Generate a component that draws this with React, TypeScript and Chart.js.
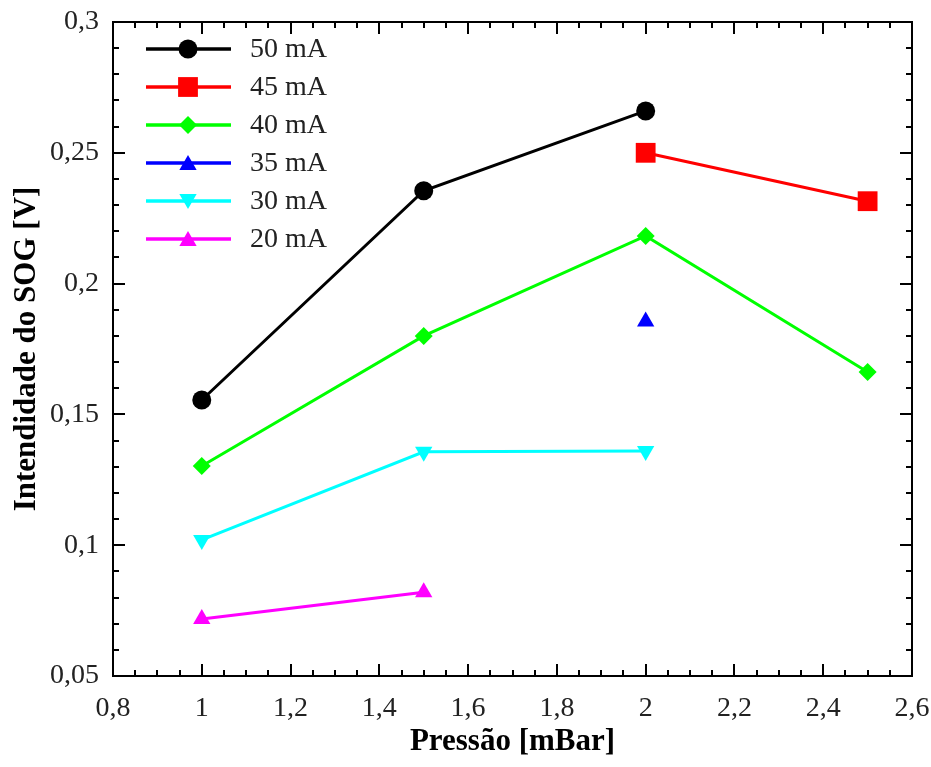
import React, { useEffect, useRef } from 'react';
import { Chart, registerables } from 'chart.js';

Chart.register(...registerables);

const FONT = "'Liberation Serif', 'Times New Roman', serif";

// Data (Pressão [mBar] vs Intendidade do SOG [V])
const seriesLabels = ['50 mA', '45 mA', '40 mA', '35 mA', '30 mA', '20 mA'];
const seriesColors = ['#000000', '#ff0000', '#00ff00', '#0000ff', '#00ffff', '#ff00ff'];
const seriesStyles = ['circle', 'rect', 'rectRot', 'triangle', 'triangle', 'triangle'];
const seriesRotation = [0, 0, 0, 0, 180, 0];
const seriesRadius = [9.5, 14, 9, 10, 10, 10];

const x50 = [1, 1.5, 2];
const y50 = [0.1555, 0.2355, 0.266];
const x45 = [2, 2.5];
const y45 = [0.25, 0.2315];
const x40 = [1, 1.5, 2, 2.5];
const y40 = [0.1303, 0.18, 0.2182, 0.1662];
const x35 = [2];
const y35 = [0.1855];
const x30 = [1, 1.5, 2];
const y30 = [0.102, 0.1357, 0.136];
const x20 = [1, 1.5];
const y20 = [0.0718, 0.082];

const seriesX = [x50, x45, x40, x35, x30, x20];
const seriesY = [y50, y45, y40, y35, y30, y20];

const xMin = 0.8, xMax = 2.6, xStep = 0.2, xMinor = 0.05;
const yMin = 0.05, yMax = 0.3, yStep = 0.05, yMinor = 0.01;

const xTitle = 'Pressão [mBar]';
const yTitle = 'Intendidade do SOG [V]';

const fmt = (v: number) => String(Number(v.toFixed(3))).replace('.', ',');

function drawMarker(ctx: CanvasRenderingContext2D, style: string, x: number, y: number, r: number, rot: number) {
  ctx.beginPath();
  if (style === 'circle') {
    ctx.arc(x, y, r, 0, Math.PI * 2);
  } else if (style === 'rect') {
    const s = Math.SQRT1_2 * r;
    ctx.rect(x - s, y - s, 2 * s, 2 * s);
  } else if (style === 'rectRot') {
    ctx.moveTo(x - r, y);
    ctx.lineTo(x, y - r);
    ctx.lineTo(x + r, y);
    ctx.lineTo(x, y + r);
    ctx.closePath();
  } else if (style === 'triangle') {
    let rad = (rot * Math.PI) / 180;
    ctx.moveTo(x + Math.sin(rad) * r, y - Math.cos(rad) * r);
    rad += (2 * Math.PI) / 3;
    ctx.lineTo(x + Math.sin(rad) * r, y - Math.cos(rad) * r);
    rad += (2 * Math.PI) / 3;
    ctx.lineTo(x + Math.sin(rad) * r, y - Math.cos(rad) * r);
    ctx.closePath();
  }
  ctx.fill();
}

const framePlugin = {
  id: 'framePlugin',
  afterDraw(chart: any) {
    const { ctx, chartArea: a, scales } = chart;
    const xs = scales.x;
    const ys = scales.y;
    ctx.save();
    ctx.strokeStyle = '#000';
    ctx.lineWidth = 2;
    ctx.strokeRect(a.left, a.top, a.right - a.left, a.bottom - a.top);

    const major = 12;
    const minor = 6;
    ctx.beginPath();
    const nx = Math.round((xMax - xMin) / xMinor);
    for (let i = 0; i <= nx; i++) {
      const v = xMin + i * xMinor;
      const isMajor = i % Math.round(xStep / xMinor) === 0;
      const len = isMajor ? major : minor;
      const px = Math.round(xs.getPixelForValue(v));
      ctx.moveTo(px, a.bottom);
      ctx.lineTo(px, a.bottom - len);
      ctx.moveTo(px, a.top);
      ctx.lineTo(px, a.top + len);
    }
    const ny = Math.round((yMax - yMin) / yMinor);
    for (let i = 0; i <= ny; i++) {
      const v = yMin + i * yMinor;
      const isMajor = i % Math.round(yStep / yMinor) === 0;
      const len = isMajor ? major : minor;
      const py = Math.round(ys.getPixelForValue(v));
      ctx.moveTo(a.left, py);
      ctx.lineTo(a.left + len, py);
      ctx.moveTo(a.right, py);
      ctx.lineTo(a.right - len, py);
    }
    ctx.stroke();

    // Axis titles
    ctx.fillStyle = '#000';
    ctx.font = `bold 31px ${FONT}`;
    ctx.textAlign = 'center';
    ctx.textBaseline = 'alphabetic';
    ctx.fillText(xTitle, (a.left + a.right) / 2, 750);
    ctx.save();
    ctx.translate(35, (a.top + a.bottom) / 2);
    ctx.rotate(-Math.PI / 2);
    ctx.fillText(yTitle, 0, 0);
    ctx.restore();

    // Legend
    ctx.font = `28px ${FONT}`;
    ctx.textAlign = 'left';
    ctx.textBaseline = 'middle';
    for (let i = 0; i < seriesLabels.length; i++) {
      const y = a.top + 27 + i * 38;
      ctx.strokeStyle = seriesColors[i];
      ctx.lineWidth = 3.5;
      ctx.beginPath();
      ctx.moveTo(a.left + 33, y);
      ctx.lineTo(a.left + 118, y);
      ctx.stroke();
      ctx.fillStyle = seriesColors[i];
      const r = seriesRadius[i];
      drawMarker(ctx, seriesStyles[i], a.left + 75, y + (seriesStyles[i] === 'triangle' ? (seriesRotation[i] ? -2 : 2) : 0), r, seriesRotation[i]);
      ctx.fillStyle = '#222';
      ctx.fillText(seriesLabels[i], a.left + 137, y + 1);
    }
    ctx.restore();
  },
};

export default function App() {
  const canvasRef = useRef<HTMLCanvasElement | null>(null);

  useEffect(() => {
    const canvas = canvasRef.current;
    if (!canvas) return;
    const datasets = seriesLabels.map((label, i) => ({
      label,
      data: seriesX[i].map((x, j) => ({ x, y: seriesY[i][j] })),
      borderColor: seriesColors[i],
      backgroundColor: seriesColors[i],
      borderWidth: 3,
      pointStyle: seriesStyles[i] as any,
      pointRotation: seriesRotation[i],
      pointRadius: seriesRadius[i],
      pointHoverRadius: seriesRadius[i],
      pointBorderWidth: 0,
      showLine: true,
      tension: 0,
    }));

    const chart = new Chart(canvas, {
      type: 'scatter',
      data: { datasets },
      plugins: [framePlugin],
      options: {
        animation: false,
        responsive: false,
        devicePixelRatio: 1,
        layout: { padding: { left: 0, top: 22, right: 19, bottom: 0 } },
        plugins: {
          legend: { display: false },
          tooltip: { enabled: false },
        },
        scales: {
          x: {
            type: 'linear',
            min: xMin,
            max: xMax,
            grid: { display: false, drawTicks: false },
            border: { display: false },
            ticks: {
              stepSize: xStep,
              autoSkip: false,
              maxRotation: 0,
              padding: 16,
              color: '#222',
              font: { family: FONT, size: 28 },
              callback: (v: any) => fmt(Number(v)),
            },
            afterFit: (s: any) => {
              s.height = 91;
              s.paddingLeft = 0;
              s.paddingRight = 0;
            },
          },
          y: {
            type: 'linear',
            min: yMin,
            max: yMax,
            grid: { display: false, drawTicks: false },
            border: { display: false },
            ticks: {
              stepSize: yStep,
              autoSkip: false,
              padding: 14,
              color: '#222',
              font: { family: FONT, size: 28 },
              callback: (v: any) => fmt(Number(v)),
            },
            afterFit: (s: any) => {
              s.width = 113;
              s.paddingTop = 0;
              s.paddingBottom = 0;
            },
          },
        },
      },
    });
    return () => chart.destroy();
  }, []);

  return (
    <div style={{ position: 'absolute', left: 0, top: 0, width: 931, height: 767, background: '#fff' }}>
      <canvas ref={canvasRef} width={931} height={767} style={{ width: 931, height: 767, display: 'block' }} />
    </div>
  );
}
